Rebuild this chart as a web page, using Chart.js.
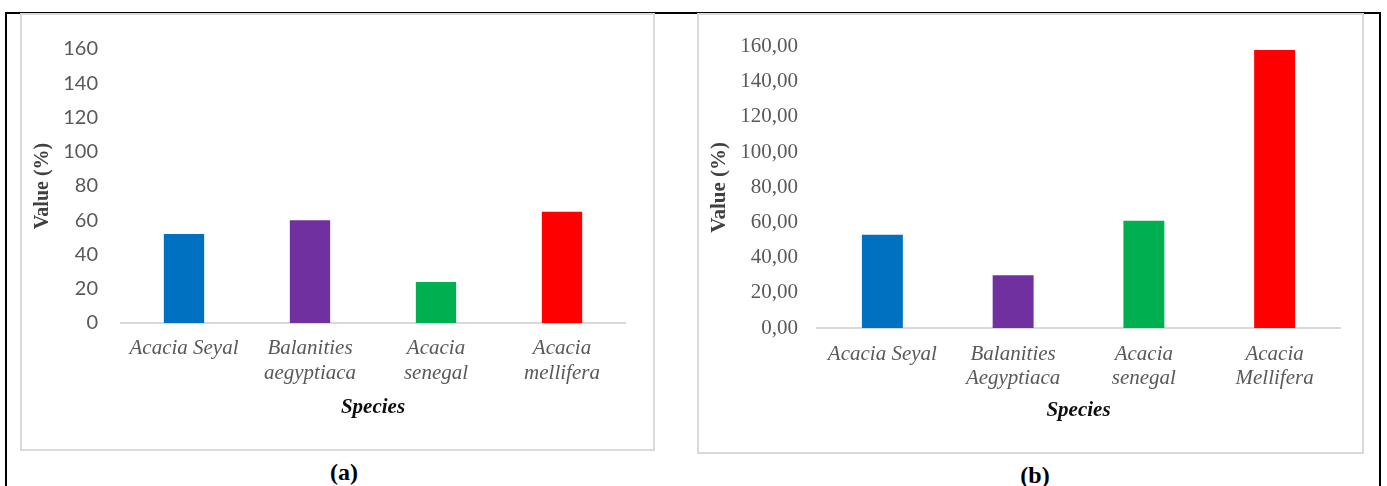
<!DOCTYPE html>
<html>
<head>
<meta charset="utf-8">
<script src="https://cdn.jsdelivr.net/npm/chart.js@4/dist/chart.umd.min.js"></script>
<style>
    body { margin: 0; width: 1387px; height: 486px; background: #fff; position: relative; overflow: hidden; }
    .frame { position: absolute; left: 5px; top: 12px; width: 1376px; height: 480px; box-sizing: border-box;
             border: 2px solid #000; border-bottom: none; }
    .box { position: absolute; box-sizing: border-box; border: 2px solid #d9d9d9; }
    canvas { position: absolute; }
    .caption { position: absolute; font: bold 24px "Liberation Serif", serif; color: #000; transform: translate(-50%, -50%); }
</style>
</head>
<body>
<div class="frame"></div>
<div class="box" style="left:20px; top:13px; width:635px; height:438px;"></div>
<div class="box" style="left:697px; top:13px; width:667px; height:441px;"></div>
<canvas id="chartA" width="633" height="436" style="left:21px; top:14px;"></canvas>
<canvas id="chartB" width="663" height="437" style="left:699px; top:15px;"></canvas>
<div class="caption" style="left:344px; top:472px;">(a)</div>
<div class="caption" style="left:1035px; top:475px;">(b)</div>

<script>
// Data
const speciesA = ['Acacia Seyal', ['Balanities', 'aegyptiaca'], ['Acacia', 'senegal'], ['Acacia', 'mellifera']];
const speciesB = ['Acacia Seyal', ['Balanities', 'Aegyptiaca'], ['Acacia', 'senegal'], ['Acacia', 'Mellifera']];
const valuesA = [52, 60, 24, 65];
const valuesB = [53, 30, 61, 158];
const barColors = ['#0070C0', '#7030A0', '#00B050', '#FF0000'];
const yMax = 160;
const yStep = 20;

const SERIF = "'Liberation Serif', serif";

function makeChart(id, labels, values, cfg) {
    const ctx = document.getElementById(id).getContext('2d');
    return new Chart(ctx, {
        type: 'bar',
        data: {
            labels: labels,
            datasets: [{
                data: values,
                backgroundColor: barColors,
                borderWidth: 0,
                barPercentage: cfg.barPct,
                categoryPercentage: 1
            }]
        },
        options: {
            responsive: false,
            animation: false,
            layout: { padding: cfg.padding },
            plugins: { legend: { display: false }, tooltip: { enabled: false } },
            scales: {
                x: {
                    grid: { display: false, drawTicks: false },
                    border: { display: true, color: '#d9d9d9', width: 2 },
                    ticks: {
                        color: '#595959',
                        padding: cfg.xTickPad,
                        maxRotation: 0,
                        autoSkip: false,
                        font: { size: 21, style: 'italic', weight: 'normal', lineHeight: cfg.xLine }
                    },
                    title: {
                        display: true,
                        text: 'Species',
                        color: '#0d0d0d',
                        padding: 0,
                        font: { size: 21, style: 'italic', weight: 'bold' }
                    },
                    afterFit: function(scale) { scale.height = cfg.xHeight; }
                },
                y: {
                    min: 0,
                    max: yMax,
                    grid: { display: false, drawTicks: false },
                    border: { display: false },
                    ticks: {
                        stepSize: yStep,
                        color: '#595959',
                        padding: cfg.yTickPad,
                        font: cfg.tickFont,
                        callback: cfg.format
                    },
                    title: {
                        display: true,
                        text: 'Value (%)',
                        color: '#404040',
                        padding: 0,
                        font: { size: cfg.yTitleSize, weight: 'bold' }
                    },
                    afterFit: function(scale) { scale.width = cfg.yWidth; }
                }
            }
        }
    });
}

document.addEventListener('DOMContentLoaded', function() {
    if (typeof Chart === 'undefined') {
        console.error('Chart.js is not loaded.');
        return;
    }
    Chart.defaults.font.family = SERIF;
    Chart.defaults.font.weight = 'normal';

    // (a) - Calibri-like tick labels
    makeChart('chartA', speciesA, valuesA, {
        barPct: 0.32,
        padding: { top: 29, right: 29, left: 10, bottom: 30 },
        xHeight: 97,
        yWidth: 90,
        xTickPad: 13,
        xLine: 1.2,
        yTickPad: 23,
        yTitleSize: 20,
        tickFont: { family: 'Lato, sans-serif', size: 20, weight: 'normal' },
        format: function(v) { return v; }
    });

    // (b) - serif tick labels with decimal comma
    makeChart('chartB', speciesB, valuesB, {
        barPct: 0.313,
        padding: { top: 28, right: 22, left: 8, bottom: 29 },
        xHeight: 95,
        yWidth: 110,
        xTickPad: 14,
        xLine: 1.15,
        yTickPad: 19,
        yTitleSize: 21,
        tickFont: { size: 21, weight: 'normal' },
        format: function(v) { return v.toFixed(2).replace('.', ','); }
    });
});
</script>
</body>
</html>
